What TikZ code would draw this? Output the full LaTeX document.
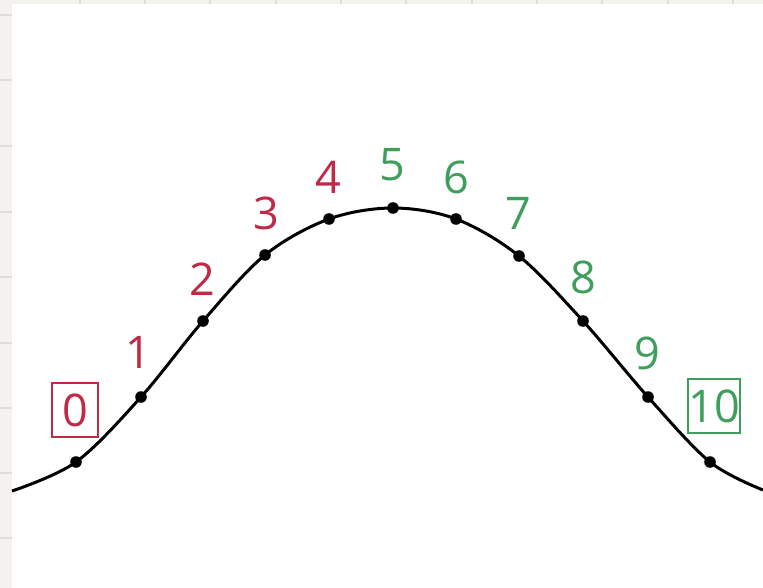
\documentclass[tikz,border=0pt]{standalone}
\usepackage{fontspec}
\setmainfont{Open Sans}
\definecolor{numred}{RGB}{190,42,72}
\definecolor{numgreen}{RGB}{62,158,92}
\definecolor{paper}{RGB}{243,242,239}
\definecolor{paperline}{RGB}{222,221,218}
\begin{document}
\begin{tikzpicture}[x=1pt,y=-1pt,
  lbl/.style={inner sep=0pt,font=\fontsize{45}{50}\selectfont},
  redlbl/.style={lbl,text=numred},
  greenlbl/.style={lbl,text=numgreen},
  boxed/.style={draw,line width=1.4pt,minimum height=54pt,inner sep=0pt},
  dot/.style={fill=black},
  curve/.style={line width=3pt,black}]
\useasboundingbox (0,0) rectangle (763,588);
\fill[white] (0,0) rectangle (763,588);
% paper strips
\fill[paper] (0,0) rectangle (12,588);
\fill[paper] (0,0) rectangle (763,4);
\foreach \yy in {15,80,146,212,277,343,408,473,538}
  \draw[paperline,line width=1.2pt] (0,\yy) -- (12,\yy);
\foreach \xx in {80,145,210,276,341,406,472,537,602,668,733}
  \draw[paperline,line width=1.2pt] (\xx,0) -- (\xx,4);
% points on the curve
\coordinate (s) at (12,491);
\coordinate (p0) at (76,462);
\coordinate (p1) at (141,397);
\coordinate (p2) at (203,321);
\coordinate (p3) at (265,255);
\coordinate (p4) at (329,219);
\coordinate (p5) at (393,208);
\coordinate (p6) at (456,219);
\coordinate (p7) at (519,256);
\coordinate (p8) at (583,321);
\coordinate (p9) at (648,397);
\coordinate (p10) at (710,462);
\coordinate (e) at (763,490);
\draw[curve] plot[smooth,tension=0.55] coordinates {(s) (p0) (p1) (p2) (p3) (p4) (p5) (p6) (p7) (p8) (p9) (p10) (e)};
\foreach \i in {0,...,10}
  \fill[dot] (p\i) circle (5.8pt);
% labels
\node[redlbl,boxed,draw=numred,minimum width=46pt] (l0) at (75,410) {0};
\node[redlbl] (l1) at (138,352) {1};
\node[redlbl] (l2) at (202,279) {2};
\node[redlbl] (l3) at (266,213) {3};
\node[redlbl] (l4) at (328,177) {4};
\node[greenlbl] (l5) at (392,165) {5};
\node[greenlbl] (l6) at (456,177) {6};
\node[greenlbl] (l7) at (518,213) {7};
\node[greenlbl] (l8) at (583,277) {8};
\node[greenlbl] (l9) at (647,353) {9};
\node[greenlbl,boxed,draw=numgreen,minimum width=52pt] (l10) at (714,406) {10};
\end{tikzpicture}
\end{document}
